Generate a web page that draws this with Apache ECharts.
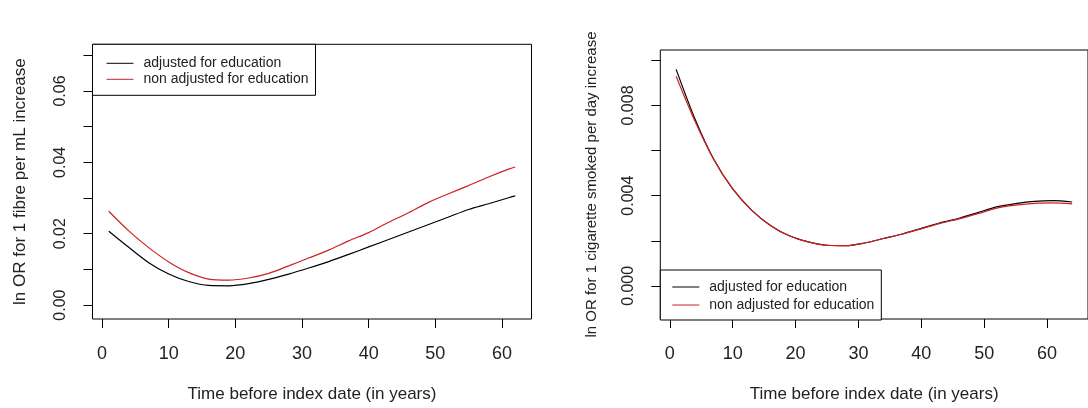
<!DOCTYPE html>
<html>
<head>
<meta charset="utf-8">
<script src="https://cdn.jsdelivr.net/npm/echarts@6/dist/echarts.min.js"></script>
<style>
html, body { margin: 0; padding: 0; background: #fff; }
#main { width: 1088px; height: 408px; }
</style>
</head>
<body>
<div id="main"></div>
<script>
// left panel: asbestos fibres
var yearsL = [1, 4, 7, 10, 13, 16, 19, 22, 25, 28, 31, 34, 37, 40, 43, 46, 49, 52, 55, 58, 61, 62];
var adjL = [0.0207, 0.0162, 0.0119, 0.0087, 0.0066, 0.0055, 0.0054, 0.0060, 0.0072, 0.0087, 0.0104,
            0.0122, 0.0142, 0.0163, 0.0184, 0.0205, 0.0226, 0.0247, 0.0268, 0.0284, 0.0301, 0.0306];
var nonAdjL = [0.0263, 0.0208, 0.0161, 0.0121, 0.0091, 0.0073, 0.0070, 0.0076, 0.0089, 0.0110, 0.0132,
               0.0154, 0.0180, 0.0203, 0.0232, 0.0259, 0.0288, 0.0312, 0.0335, 0.0359, 0.0381, 0.0387];
// right panel: cigarettes
var yearsR = [1, 4, 7, 10, 13, 16, 19, 22, 25, 28, 31, 34, 37, 40, 43, 46, 49, 52, 55, 58, 61, 64];
var adjR = [0.0096, 0.0074, 0.0056, 0.0043, 0.00336, 0.00268, 0.00222, 0.00195, 0.0018, 0.00178, 0.0019,
            0.0021, 0.0023, 0.00255, 0.0028, 0.0030, 0.00325, 0.0035, 0.00365, 0.00375, 0.00378, 0.00372];
var nonAdjR = [0.0093, 0.0073, 0.0056, 0.0043, 0.00336, 0.00268, 0.00222, 0.00195, 0.0018, 0.00178, 0.0019,
               0.0021, 0.0023, 0.00253, 0.00277, 0.00297, 0.0032, 0.00345, 0.00358, 0.00366, 0.00368, 0.00364];

var xTicks = [0, 10, 20, 30, 40, 50, 60];
var yTicksL = [0, 0.01, 0.02, 0.03, 0.04, 0.05, 0.06, 0.07];
var yLabelsL = [0, 0.02, 0.04, 0.06];
var yTicksR = [0, 0.002, 0.004, 0.006, 0.008, 0.010];
var yLabelsR = [0, 0.004, 0.008];

var names = ['adjusted for education', 'non adjusted for education'];

function pairs(xs, ys) {
    var out = [];
    for (var i = 0; i < xs.length; i++) out.push([xs[i], ys[i]]);
    return out;
}

var font = 'Liberation Sans, Arial, sans-serif';
var txt = '#222';

function xAxisOf(grid, min, max) {
    return {
        type: 'value', gridIndex: grid, min: min, max: max,
        name: 'Time before index date (in years)',
        nameLocation: 'middle', nameGap: 67,
        nameTextStyle: { fontFamily: font, fontSize: 17, color: txt },
        axisLine: { show: false, onZero: false },
        axisTick: { show: true, length: 9, customValues: xTicks, lineStyle: { color: '#000' } },
        axisLabel: { customValues: xTicks, margin: 26, fontFamily: font, fontSize: 18, color: txt },
        splitLine: { show: false }
    };
}

function yAxisOf(grid, min, max, ticks, labels, digits, title, gap, size) {
    return {
        type: 'value', gridIndex: grid, min: min, max: max,
        name: title, nameLocation: 'middle', nameGap: gap, nameRotate: 90,
        nameTextStyle: { fontFamily: font, fontSize: size, color: txt },
        axisLine: { show: false, onZero: false },
        axisTick: { show: true, length: 9, customValues: ticks, lineStyle: { color: '#000' } },
        axisLabel: {
            customValues: labels, rotate: 90, margin: 24,
            fontFamily: font, fontSize: 16, color: txt,
            formatter: function (v) { return v.toFixed(digits); }
        },
        splitLine: { show: false }
    };
}

function lineOf(name, xi, data, color) {
    return {
        name: name, type: 'line', xAxisIndex: xi, yAxisIndex: xi,
        data: data, smooth: 0.3, showSymbol: false, symbol: 'none',
        itemStyle: { color: color },
        lineStyle: { color: color, width: 1.2 },
        emphasis: { disabled: true }
    };
}

var legendBase = {
    orient: 'vertical', data: names, icon: 'rect',
    itemWidth: 27, itemHeight: 1,
    borderColor: '#000', borderWidth: 1, backgroundColor: '#fff',
    textStyle: { fontFamily: font, fontSize: 14, color: txt, padding: [0, 0, 0, 5] },
    selectedMode: false
};

var chart = echarts.init(document.getElementById('main'));
chart.setOption({
    backgroundColor: '#fff',
    animation: false,
    grid: [
        { left: 92.5, top: 44.3, width: 439, height: 274.7, show: true, borderColor: '#000', borderWidth: 1 },
        { left: 660.3, top: 50, width: 433.6, height: 271, show: true, borderColor: '#000', borderWidth: 1 }
    ],
    xAxis: [xAxisOf(0, -1.44, 64.44), xAxisOf(1, -1.52, 66.52)],
    yAxis: [
        yAxisOf(0, -0.0039, 0.0731, yTicksL, yLabelsL, 2, 'ln OR for 1 fibre per mL increase', 64, 17),
        yAxisOf(1, -0.00147, 0.01046, yTicksR, yLabelsR, 3, 'ln OR for 1 cigarette smoked per day increase', 61, 15)
    ],
    legend: [
        Object.assign({}, legendBase, { left: 92.5, top: 44.3, padding: [12, 7, 9, 14], itemGap: 2 }),
        Object.assign({}, legendBase, { left: 660.3, top: 270, padding: [10, 7, 8, 12], itemGap: 4 })
    ],
    series: [
        lineOf(names[0], 0, pairs(yearsL, adjL), '#000'),
        lineOf(names[1], 0, pairs(yearsL, nonAdjL), '#cc2222'),
        lineOf(names[0], 1, pairs(yearsR, adjR), '#000'),
        lineOf(names[1], 1, pairs(yearsR, nonAdjR), '#cc2222')
    ]
});
</script>
</body>
</html>
